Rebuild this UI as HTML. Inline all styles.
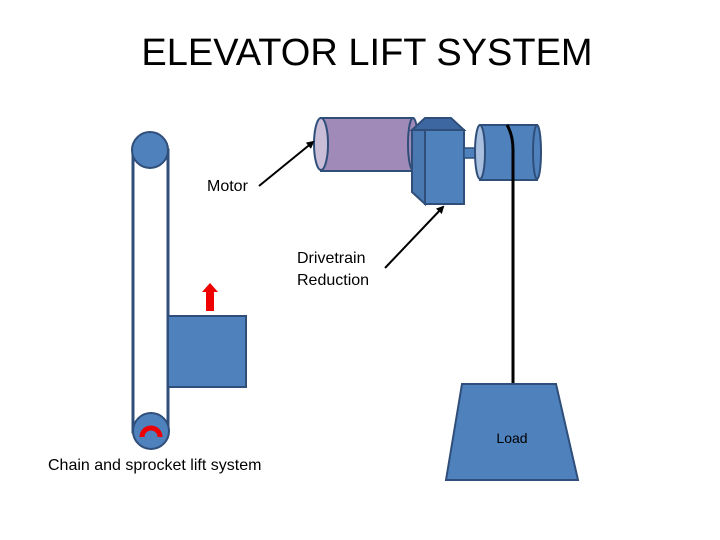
<!DOCTYPE html>
<html><head><style>
body{margin:0;background:#fff;}
svg{display:block;}
text{font-family:"Liberation Sans",sans-serif;}
</style></head><body>
<svg width="720" height="540" viewBox="0 0 720 540" xmlns="http://www.w3.org/2000/svg">
<defs><marker id="ah" markerWidth="8" markerHeight="8" refX="6" refY="4" orient="auto" markerUnits="userSpaceOnUse"><path d="M0,0 L8,4 L0,8 z" fill="#000"/></marker></defs>
<text x="367" y="65" font-size="38" text-anchor="middle" fill="#000">ELEVATOR LIFT SYSTEM</text>
<!-- chain -->
<rect x="133" y="150" width="35" height="282" fill="#fff" stroke="#2f4f7a" stroke-width="3"/>
<circle cx="150" cy="150" r="18" fill="#4f81bd" stroke="#2f4f7a" stroke-width="2"/>
<circle cx="151" cy="431" r="18" fill="#4f81bd" stroke="#2f4f7a" stroke-width="2"/>
<path d="M142,437 A9,9 0 0 1 160,437" fill="none" stroke="#e00" stroke-width="5"/>
<rect x="168" y="316" width="78" height="71" fill="#4f81bd" stroke="#2f4f7a" stroke-width="2"/>
<path d="M206,311 L206,292 L202,292 L210,283 L218,292 L214,292 L214,311 z" fill="#e00"/>
<text x="48" y="470" font-size="16">Chain and sprocket lift system</text>
<!-- motor -->
<rect x="321" y="118" width="92" height="53" fill="#a08bb8" stroke="#2f4f7a" stroke-width="2"/>
<ellipse cx="321" cy="144" rx="7" ry="26" fill="#c9bdd8" stroke="#2f4f7a" stroke-width="2"/>
<ellipse cx="413" cy="144" rx="5" ry="26" fill="#a08bb8" stroke="#2f4f7a" stroke-width="2"/>
<!-- gearbox -->
<path d="M412,130 L425,118 L451,118 L464,130 z" fill="#3c67a0" stroke="#2f4f7a" stroke-width="2"/>
<path d="M412,130 L425,130 L425,204 L412,192 z" fill="#4a78b0" stroke="#2f4f7a" stroke-width="2"/>
<rect x="425" y="130" width="39" height="74" fill="#4f81bd" stroke="#2f4f7a" stroke-width="2"/>
<rect x="464" y="148" width="18" height="10" fill="#4f81bd" stroke="#2f4f7a" stroke-width="1.5"/>
<!-- drum -->
<rect x="480" y="125" width="57" height="55" fill="#4f81bd" stroke="#2f4f7a" stroke-width="2"/>
<ellipse cx="480" cy="152" rx="5" ry="27" fill="#a8bfdf" stroke="#2f4f7a" stroke-width="2"/>
<ellipse cx="537" cy="152" rx="4" ry="27" fill="#4f81bd" stroke="#2f4f7a" stroke-width="2"/>
<path d="M507,125 Q513,135 513,150 L513,384" fill="none" stroke="#000" stroke-width="3"/>
<!-- load -->
<path d="M462,384 L556,384 L578,480 L446,480 z" fill="#4f81bd" stroke="#2f4f7a" stroke-width="2"/>
<text x="512" y="443" font-size="14" text-anchor="middle">Load</text>
<!-- labels -->
<text x="207" y="191" font-size="16">Motor</text>
<line x1="259" y1="186" x2="313" y2="142" stroke="#000" stroke-width="2" marker-end="url(#ah)"/>
<text x="297" y="263" font-size="16">Drivetrain</text>
<text x="297" y="285" font-size="16">Reduction</text>
<line x1="385" y1="268" x2="443" y2="207" stroke="#000" stroke-width="2" marker-end="url(#ah)"/>
</svg>
</body></html>
